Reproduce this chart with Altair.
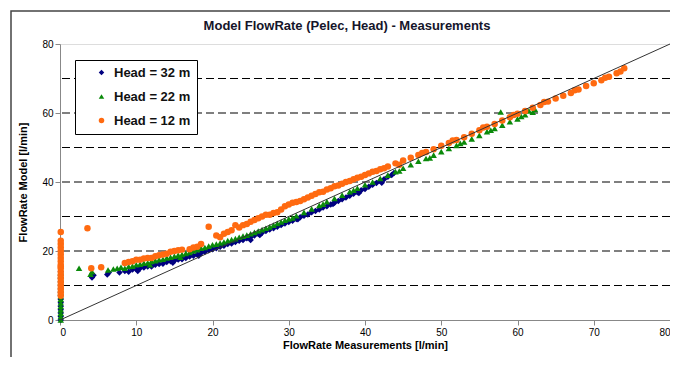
import altair as alt
import pandas as pd

# ---------------- data ----------------
blue_x = [0.1]*15 + [4.2, 4.4, 6.2, 6.4, 7.8, 8.5, 9.0, 9.5, 10.0, 10.5, 11.0, 11.5, 12.0, 12.5, 13.0, 13.5,
         14.0, 14.5, 15.0, 15.5, 16.0, 16.5, 17.0, 17.5, 18.0, 18.5, 19.0, 19.5, 20.0, 20.5, 21.0, 21.5,
         22.0, 22.5, 23.0, 23.5, 24.0, 24.5, 25.0, 25.0, 25.5, 26.0, 26.5, 27.0, 27.5, 28.0, 28.5, 29.0,
         29.5, 30.0, 30.5, 31.0, 31.5, 32.0, 32.5, 33.0, 33.5, 34.0, 34.5, 35.0, 35.5, 36.0, 36.5, 37.0,
         37.5, 38.0, 38.5, 39.0, 39.5, 40.0, 40.5, 41.0, 41.5, 42.0, 42.5, 43.0, 43.5, 43.8,
         10.2, 14.8, 18.2, 26.2, 31.2, 35.8, 39.2, 42.2]
blue_y = [0, 1, 2, 3, 4, 5, 6, 7, 8, 9, 10, 11, 12, 13, 14] + [12.3, 13.0, 13.2, 13.8, 13.8, 14.2, 14.0, 14.6,
         14.8, 15.0, 15.2, 15.5, 15.5, 16.0, 16.2, 16.3, 16.8, 17.0, 17.2, 17.5, 17.6, 18.0, 18.4, 18.6,
         19.0, 19.4, 19.8, 20.2, 20.5, 20.8, 21.2, 21.5, 22.0, 22.2, 22.6, 23.0, 23.2, 23.7, 24.0, 23.2,
         24.5, 25.0, 25.3, 25.8, 26.2, 26.6, 27.0, 27.5, 28.0, 28.4, 28.8, 29.3, 29.8, 30.2, 30.6, 31.2,
         31.6, 32.0, 32.6, 33.0, 33.5, 34.0, 34.5, 35.0, 35.5, 36.0, 36.6, 37.0, 37.6, 38.0, 38.6, 39.2,
         39.7, 40.3, 40.8, 41.5, 42.0, 42.6,
         14.2, 16.6, 18.6, 24.6, 29.2, 33.6, 36.8, 39.8]

green_x = [0.1]*15 + [2.5, 4.0, 4.2, 6.3, 7.0, 7.5, 8.0, 8.5, 9.0, 9.5, 10.0, 10.5, 11.0, 11.5, 12.0, 12.5,
          13.0, 13.5, 14.0, 14.5, 15.0, 15.5, 16.0, 16.5, 17.0, 17.5, 18.0, 18.5, 19.0, 19.5, 20.0, 20.5,
          21.0, 21.5, 22.0, 22.5, 23.0, 23.5, 24.0, 24.5, 25.0, 25.5, 26.0, 26.5, 27.0, 27.5, 28.0, 28.5,
          29.0, 29.5, 30.0, 31.0, 32.0, 33.0, 34.0, 35.0, 36.0, 37.0, 38.0, 39.0, 40.0, 41.0, 42.0, 43.0,
          44.0, 45.0, 46.0, 47.0, 48.0, 49.0, 50.0, 51.0, 52.0, 53.0, 54.0, 55.0, 56.0, 57.0, 57.8, 58.0,
          59.0, 60.0, 60.5, 61.0, 61.5, 62.0, 62.3,
          11.8, 15.8, 30.5, 34.5, 38.5, 44.5, 48.5, 52.5, 56.5]
green_y = [0, 1, 2, 3, 4, 5, 6, 7, 8, 9, 10, 11, 12, 13, 14] + [15.0, 13.3, 14.0, 14.5, 14.8, 15.0, 15.3,
          15.0, 15.5, 15.6, 16.0, 16.2, 16.5, 16.6, 17.0, 17.2, 17.5, 17.6, 18.0, 18.2, 18.5, 18.8, 19.0,
          19.3, 19.6, 20.0, 20.4, 20.8, 21.0, 21.4, 21.8, 22.0, 22.3, 22.6, 23.0, 23.3, 23.6, 24.0, 24.3,
          24.6, 25.0, 25.4, 25.8, 26.2, 26.6, 27.0, 27.5, 28.0, 28.4, 28.9, 29.3, 30.2, 31.2, 32.2, 33.2,
          34.3, 35.2, 36.2, 37.2, 38.2, 39.2, 40.0, 41.0, 42.0, 43.0, 44.0, 45.0, 46.0, 46.8, 47.8, 48.8,
          49.7, 50.6, 51.6, 52.5, 53.5, 54.6, 55.5, 60.3, 56.5, 57.5, 58.3, 59.0, 59.5, 60.6, 60.2, 61.0,
          16.0, 18.2, 29.6, 33.6, 37.6, 43.2, 47.0, 51.2, 55.0]

orange_x = [0.1]*19 + [3.6, 4.1, 5.4, 8.5, 9.0, 9.5, 10.0, 10.5, 11.0, 11.5, 12.0, 12.5, 13.0, 13.5, 14.0,
           14.5, 15.0, 15.5, 16.0, 17.0, 17.5, 18.0, 18.5, 19.5, 20.5, 21.0, 21.5, 22.0, 22.5, 23.0, 23.5,
           24.0, 24.5, 25.0, 25.5, 26.0, 26.5, 27.0, 27.5, 28.0, 28.5, 29.0, 29.5, 30.0, 30.5, 31.0, 31.5,
           32.0, 32.5, 33.0, 33.5, 34.0, 34.5, 35.0, 35.5, 36.0, 36.5, 37.0, 37.5, 38.0, 38.5, 39.0, 39.5,
           40.0, 40.5, 41.0, 41.5, 42.0, 42.5, 43.0, 44.0, 45.0, 46.0, 47.0, 48.0, 49.0, 50.0, 51.0, 52.0,
           53.0, 54.0, 55.0, 56.0, 57.0, 58.0, 59.0, 60.0, 61.0, 62.0, 63.0, 64.0, 65.0, 66.0, 67.0, 68.0,
           69.0, 70.0, 71.0, 72.0, 73.0, 73.5, 74.0,
           44.5, 47.5, 51.5, 55.5, 59.5, 63.5, 67.5, 71.5]
orange_y = [7, 8, 9, 10, 11, 12, 13, 14, 15, 15.5, 16, 17, 18, 19, 20, 21, 22, 23, 25.5] + [26.6, 15.0, 15.3,
           16.5, 16.8, 17.0, 17.5, 17.5, 17.8, 18.0, 18.0, 18.5, 18.8, 19.0, 19.2, 19.8, 20.0, 20.2, 20.4,
           20.5, 21.0, 21.2, 22.0, 27.0, 24.5, 24.0, 25.0, 25.5, 26.0, 27.5, 26.8, 27.5, 27.8, 28.5, 29.0,
           29.5, 30.0, 30.5, 30.5, 31.0, 31.2, 32.0, 33.0, 33.5, 34.0, 34.2, 34.5, 35.0, 35.5, 36.0, 36.5,
           37.0, 37.2, 37.8, 38.2, 38.8, 39.0, 39.5, 40.0, 40.3, 40.8, 41.2, 41.5, 42.0, 42.5, 43.0, 43.2,
           43.7, 44.0, 44.5, 45.4, 46.2, 47.0, 47.8, 48.7, 49.5, 50.5, 51.3, 52.2, 53.0, 54.0, 55.0, 56.0,
           56.8, 57.8, 58.8, 59.8, 60.6, 61.5, 62.3, 63.3, 64.2, 65.0, 65.8, 66.8, 67.8, 68.6, 69.5, 70.5,
           71.5, 72.0, 73.0,
           45.0, 48.4, 52.0, 55.8, 59.4, 63.2, 66.6, 70.2]

series_names = ["Head = 32 m", "Head = 22 m", "Head = 12 m"]
series_colors = ["#000080", "#0a8a0a", "#ff6a10"]
series_shapes = ["diamond", "triangle-up", "circle"]

diag_x = [0, 80]
diag_y = [0, 80]
grid_values = [10, 20, 30, 40, 50, 60, 70]
axis_values = [0, 10, 20, 30, 40, 50, 60, 70, 80]

# ---------------- tables ----------------
rows = []
for name, xs, ys in zip(series_names, [blue_x, green_x, orange_x], [blue_y, green_y, orange_y]):
    for a, b in zip(xs, ys):
        rows.append({"meas": a, "model": b, "series": name})
pts = pd.DataFrame(rows)
diag = pd.DataFrame({"meas": diag_x, "model": diag_y})
grid = pd.DataFrame({"g": grid_values})
frame = pd.DataFrame({"k": [0]})

FONT = "Liberation Sans"
xscale = alt.Scale(domain=[0, 80], nice=False)
yscale = alt.Scale(domain=[0, 80], nice=False)

frame_layer = alt.Chart(frame).mark_rect(filled=False, stroke="#444444", strokeWidth=1.5, clip=False).encode(
    x=alt.value(-49), x2=alt.value(700), y=alt.value(-33), y2=alt.value(400)
)

grid_layer = alt.Chart(grid).mark_rule(color="black", strokeWidth=1.2, strokeDash=[8, 4]).encode(
    y=alt.Y("g:Q", scale=yscale)
)

points = alt.Chart(pts).mark_point(filled=True, opacity=1, size=42).encode(
    x=alt.X("meas:Q", scale=xscale,
            axis=alt.Axis(values=axis_values, title="FlowRate Measurements  [l/min]", grid=False,
                          titlePadding=2)),
    y=alt.Y("model:Q", scale=yscale,
            axis=alt.Axis(values=axis_values, title="FlowRate Model [l/min]", grid=False,
                          titleX=-32, titleY=138, titleAngle=270, titleBaseline="bottom",
                          titleAlign="center")),
    color=alt.Color("series:N", scale=alt.Scale(domain=series_names, range=series_colors),
                    legend=alt.Legend(title=None, orient="none", legendX=15, legendY=16,
                                      padding=6, rowPadding=10, symbolOffset=14, labelOffset=6,
                                      strokeColor="black", fillColor="white", symbolSize=30,
                                      labelFont=FONT, labelFontSize=13, labelFontWeight="bold",
                                      labelColor="#111111")),
    shape=alt.Shape("series:N", scale=alt.Scale(domain=series_names, range=series_shapes)),
)

diag_layer = alt.Chart(diag).mark_line(color="#333333", strokeWidth=1).encode(
    x=alt.X("meas:Q", scale=xscale),
    y=alt.Y("model:Q", scale=yscale),
)

chart = alt.layer(frame_layer, grid_layer, points, diag_layer).properties(
    width=610,
    height=276,
    title=alt.TitleParams("Model  FlowRate (Pelec, Head) - Measurements", dx=-18, offset=-33,
                          frame="group", anchor="middle",
                          baseline="alphabetic", font=FONT, fontSize=13, fontWeight="bold",
                          color="#15152a"),
    autosize=alt.AutoSizeParams(type="none"),
    padding={"left": 52, "top": 36, "right": 0, "bottom": 37},
).configure_view(
    stroke="#999999", strokeWidth=1
).configure_axis(
    domainColor="black", domainWidth=1.2, tickColor="black", tickSize=5,
    labelFont=FONT, labelFontSize=12, labelFontWeight="bold", labelColor="#222222", labelPadding=3,
    titleFont=FONT, titleFontSize=13, titleFontWeight="bold", titleColor="#15152a",
).configure(background="white")

chart.save("out.html", embed_options={"renderer": "svg", "actions": False})
